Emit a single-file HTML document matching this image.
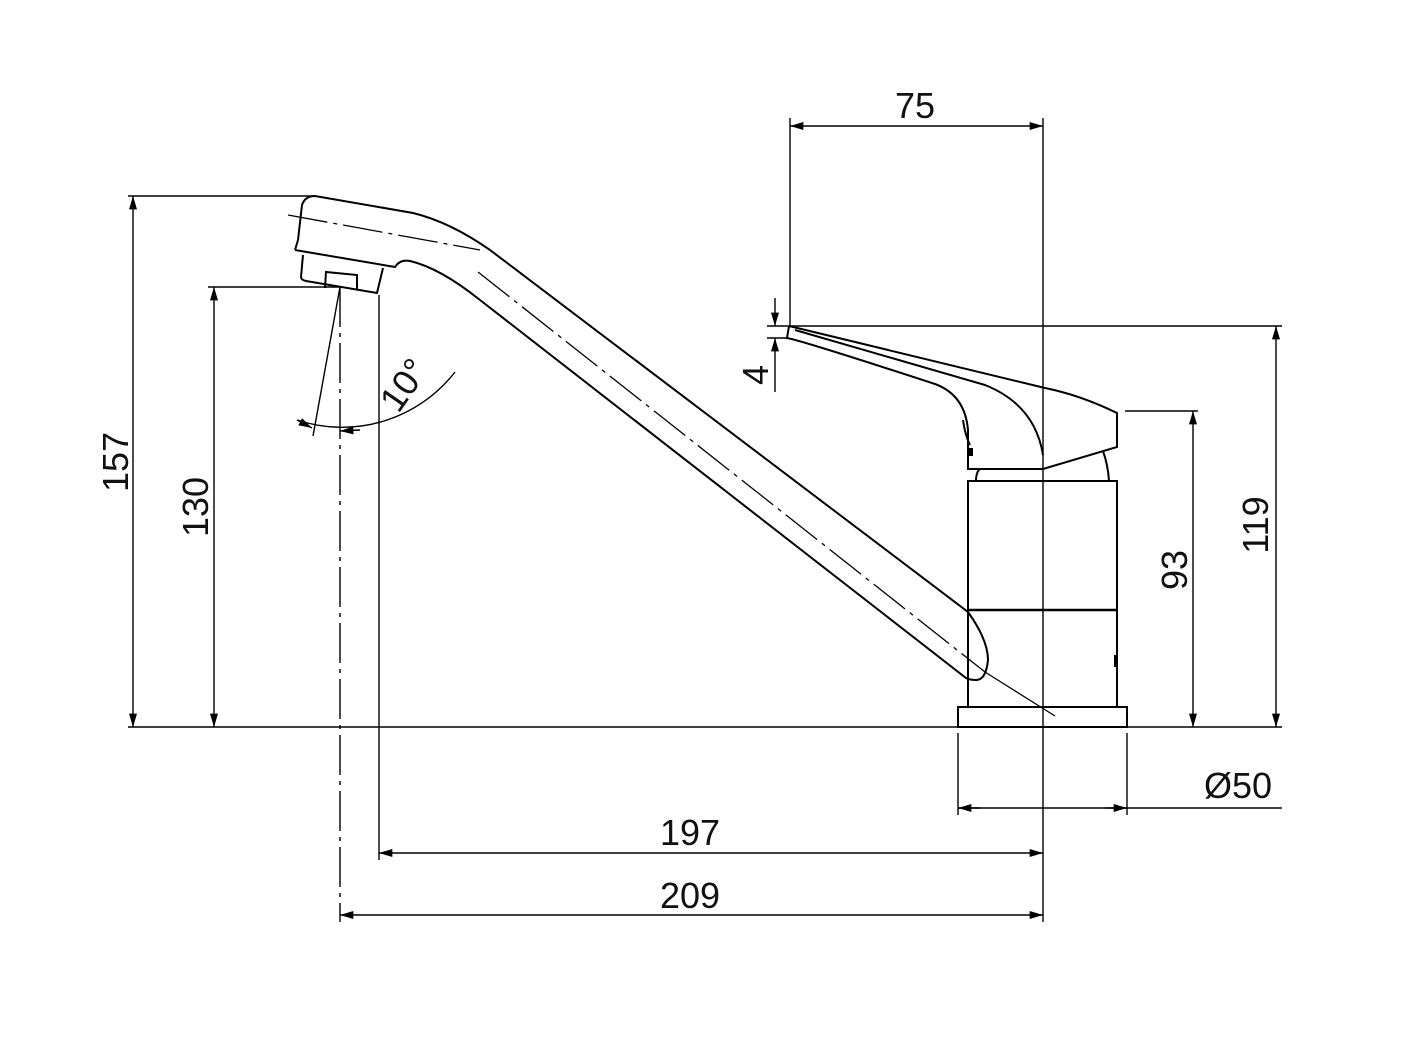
<!DOCTYPE html>
<html><head><meta charset="utf-8"><style>
html,body{margin:0;padding:0;background:#fff;}
svg{display:block}
text{font-family:"Liberation Sans",sans-serif;font-size:36px;fill:#111;}
</style></head><body>
<svg width="1420" height="1062" viewBox="0 0 1420 1062" xmlns="http://www.w3.org/2000/svg">
<defs>
<marker id="a" viewBox="0 0 10 6" refX="10" refY="3" markerWidth="20" markerHeight="8" markerUnits="userSpaceOnUse" orient="auto-start-reverse"><path d="M0,0 L10,3 L0,6 z" fill="#000"/></marker>
</defs>
<g stroke="#000" fill="none" stroke-width="1.4">
<line x1="128" y1="727" x2="1282" y2="727"/>
<line x1="128" y1="196" x2="315" y2="196"/>
<line x1="208" y1="287" x2="340" y2="287"/>
<line x1="790" y1="326" x2="1282" y2="326"/>
<line x1="1125" y1="411" x2="1198" y2="411"/>
<line x1="790" y1="118" x2="790" y2="326"/>
<line x1="1043" y1="118" x2="1043" y2="922"/>
<line x1="379" y1="295" x2="379" y2="860"/>
<line x1="340" y1="287" x2="340" y2="922" stroke-dasharray="40,6,4,6"/>
<line x1="958" y1="733" x2="958" y2="815"/>
<line x1="1127" y1="733" x2="1127" y2="815"/>
<line x1="790" y1="126" x2="1043" y2="126" marker-start="url(#a)" marker-end="url(#a)"/>
<line x1="133" y1="196" x2="133" y2="727" marker-start="url(#a)" marker-end="url(#a)"/>
<line x1="214" y1="287" x2="214" y2="727" marker-start="url(#a)" marker-end="url(#a)"/>
<line x1="1276" y1="326" x2="1276" y2="727" marker-start="url(#a)" marker-end="url(#a)"/>
<line x1="1193" y1="411" x2="1193" y2="727" marker-start="url(#a)" marker-end="url(#a)"/>
<line x1="379" y1="853" x2="1043" y2="853" marker-start="url(#a)" marker-end="url(#a)"/>
<line x1="340" y1="915" x2="1043" y2="915" marker-start="url(#a)" marker-end="url(#a)"/>
<line x1="958" y1="808" x2="1282" y2="808"/>
<line x1="980" y1="808" x2="958" y2="808" marker-end="url(#a)"/>
<line x1="1105" y1="808" x2="1127" y2="808" marker-end="url(#a)"/>
<line x1="775" y1="298" x2="775" y2="326" marker-end="url(#a)"/>
<line x1="775" y1="392" x2="775" y2="338" marker-end="url(#a)"/>
<line x1="767" y1="326" x2="790" y2="326"/>
<line x1="767" y1="338" x2="788" y2="338"/>
<line x1="340" y1="287" x2="313" y2="436"/>
<path d="M297,420 A143,143 0 0 0 455,372"/>
<path d="M297,420 L312,428" marker-end="url(#a)"/>
<path d="M360,430 L340,431" marker-end="url(#a)"/>
</g>
<g stroke="#000" fill="none" stroke-width="2">
<path d="M298,240 L302,205 Q305,196 315,196 L413,213 Q450,222 490,250"/>
<path d="M295,250 L298,240"/>
<path d="M295,250 L395,267 Q400,259 410,261 Q440,268 480,300"/>
<path d="M303,255 L301,277 Q301,280 306,281 L377,293 L383,268"/>
<path d="M325,288 L326,272 L357,275 L357,290"/>
<path d="M490,250 L968,612 Q988,640 988,660 Q986,680 976,680 Q970,680 966,678 L480,300"/>
<rect x="958" y="707" width="169" height="20"/>
<rect x="968" y="481" width="149" height="226"/>
<line x1="968" y1="610" x2="1117" y2="610" stroke-width="2.4"/>
<path d="M976,481 Q976,472 980,469"/>
<path d="M1109,481 Q1108,465 1103,451"/>
<path d="M789,326 L787,338 Q800,340 935,384 Q965,395 968,430 L968,469 L1043,469 L1117,447 L1117,413 Q1080,395 1045,388 L789,326"/>
<path d="M795,330 Q900,360 985,385 Q1035,405 1043,455"/>
<path d="M963,420 Q965,435 970,445"/>
</g>
<g stroke="#000" fill="none" stroke-width="1.3">
<line x1="288" y1="215" x2="480" y2="250" stroke-dasharray="40,6,4,6"/>
<line x1="478" y1="272" x2="985" y2="672" stroke-dasharray="40,6,4,6"/>
<line x1="985" y1="672" x2="1055" y2="716"/>
</g>
<rect x="969" y="448" width="4" height="8" fill="#000"/>
<rect x="1114" y="655" width="4" height="12" fill="#000"/>
<g>
<text x="915" y="118" text-anchor="middle">75</text>
<text x="690" y="845" text-anchor="middle">197</text>
<text x="690" y="908" text-anchor="middle">209</text>
<text x="1272" y="798" text-anchor="end">Ø50</text>
<text transform="translate(128,462) rotate(-90)" text-anchor="middle">157</text>
<text transform="translate(208,507) rotate(-90)" text-anchor="middle">130</text>
<text transform="translate(1268,525) rotate(-90)" text-anchor="middle">119</text>
<text transform="translate(1187,570) rotate(-90)" text-anchor="middle">93</text>
<text transform="translate(768,375) rotate(-90)" text-anchor="middle">4</text>
<text transform="translate(414,392) rotate(-55)" text-anchor="middle">10°</text>
</g>
</svg>
</body></html>
